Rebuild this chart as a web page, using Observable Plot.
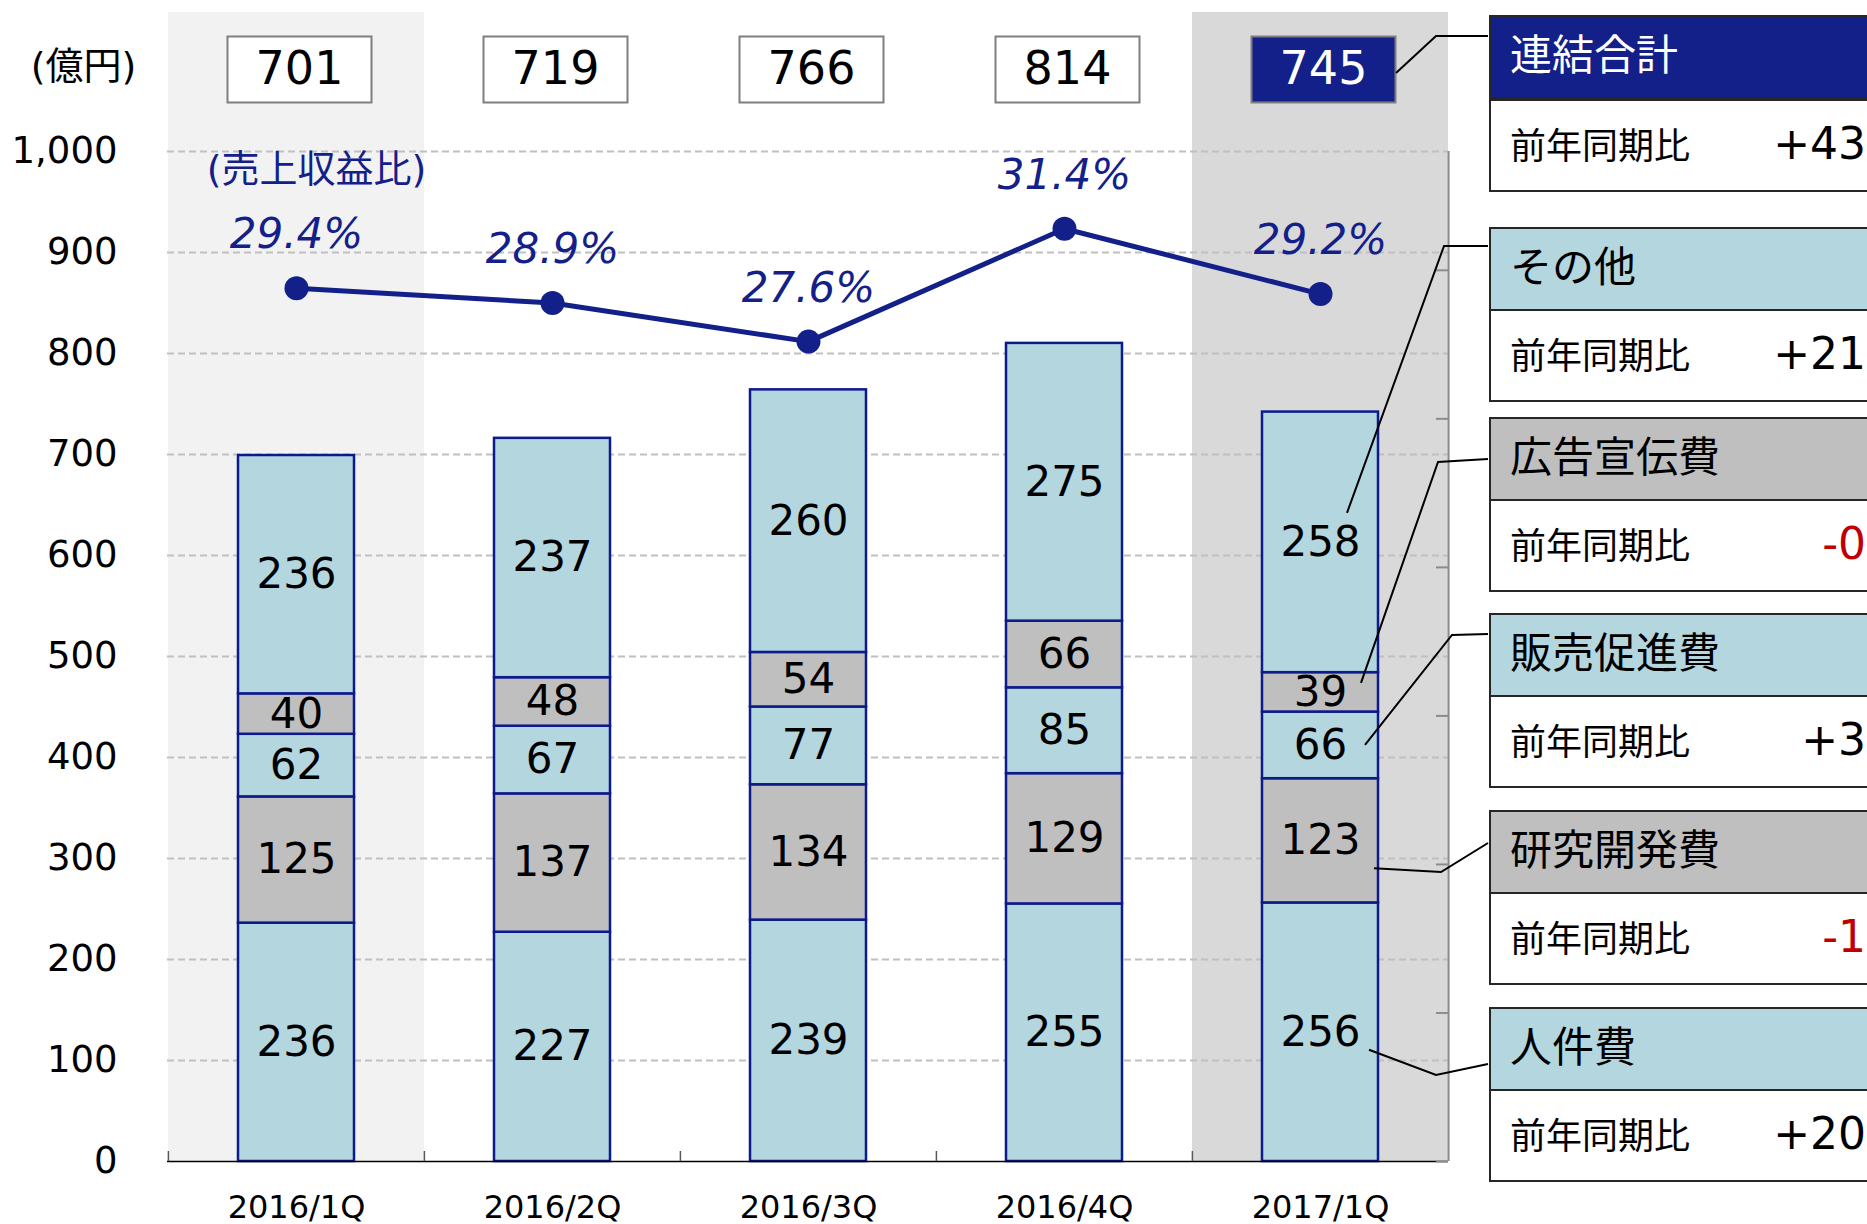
<!DOCTYPE html>
<html><head><meta charset="utf-8">
<script src="https://cdn.jsdelivr.net/npm/d3@7"></script>
<script src="https://cdn.jsdelivr.net/npm/@observablehq/plot@0.6"></script>
<style>
html,body{margin:0;padding:0;background:#fff;}
body{width:1867px;height:1224px;overflow:hidden;position:relative;font-family:"DejaVu Sans","Noto Sans CJK JP",sans-serif;}
#chart{position:absolute;left:0;top:0;}
#panel{position:absolute;left:1489px;top:0;width:378px;height:1224px;}
.box{position:absolute;left:0;width:378px;box-sizing:border-box;border:2.5px solid #262626;border-right:none;}
.hd{height:80px;border-bottom:2.5px solid #262626;font-family:"Noto Sans CJK JP",sans-serif;font-size:42px;line-height:70px;padding-left:19px;}
.bd{height:89px;background:#fff;position:relative;}
.lbl{position:absolute;left:19px;top:-2px;line-height:89px;font-family:"Noto Sans CJK JP",sans-serif;font-size:36px;color:#000;}
.val{position:absolute;right:1px;top:-2px;line-height:89px;font-family:"DejaVu Sans",sans-serif;font-size:44px;}
#leaders{position:absolute;left:0;top:0;pointer-events:none;}
</style></head><body>
<div id="chart"></div>
<div id="panel"></div>
<svg id="leaders" width="1867" height="1224"></svg>
<script>
// ---------- data ----------
const quarters = ["2016/1Q","2016/2Q","2016/3Q","2016/4Q","2017/1Q"];
const categories = ["人件費","研究開発費","販売促進費","広告宣伝費","その他"]; // bottom -> top
const personnel   = [236, 227, 239, 255, 256];
const rnd         = [125, 137, 134, 129, 123];
const promotion   = [62, 67, 77, 85, 66];
const advertising = [40, 48, 54, 66, 39];
const other       = [236, 237, 260, 275, 258];
const totals      = [701, 719, 766, 814, 745];
const ratioPct    = [29.4, 28.9, 27.6, 31.4, 29.2];
const yTicks      = [0,100,200,300,400,500,600,700,800,900,1000];
const ratioTicks  = [0,5,10,15,20,25,30];
const ratioMax    = 34;
const panelLabels = ["連結合計","その他","広告宣伝費","販売促進費","研究開発費","人件費"];
const panelYoY    = ["+43","+21","-0","+3","-1","+20"];

// ---------- styles ----------
const navy = "#13208a", blue = "#b4d6de", gray = "#bfbfbf";
const highlightQ = quarters[quarters.length - 1];

const series = [personnel, rnd, promotion, advertising, other];
const stack = quarters.flatMap((q, i) => categories.map((c, j) => ({q, cat: c, value: series[j][i]})));
const ratioData = quarters.map((q, i) => ({q, pct: ratioPct[i]}));
const totalData = quarters.map((q, i) => ({q, v: totals[i]}));

const W = 1500, H = 1224, ML = 167, MR = 52, MT = 151, MB = 63;
const step = (W - ML - MR) / quarters.length;
const frameH = H - MT - MB, frameW = W - ML - MR;
const k = 1000 / ratioMax; // secondary (ratio) axis mapped onto the primary axis
const boxSymbol = {draw(ctx) { ctx.moveTo(-72, -33); ctx.lineTo(72, -33); ctx.lineTo(72, 33); ctx.lineTo(-72, 33); ctx.closePath(); }};
const boxDx = 3, boxDy = -82;

const plot = Plot.plot({
  width: W, height: H,
  marginLeft: ML, marginRight: MR, marginTop: MT, marginBottom: MB,
  style: {fontFamily: "'DejaVu Sans','Noto Sans CJK JP',sans-serif", fontSize: "42px", background: "transparent", overflow: "visible", color: "#000"},
  x: {type: "band", domain: quarters, padding: 0, label: null},
  y: {domain: [0, 1000], label: null},
  color: {domain: categories, range: [blue, gray, blue, gray, blue]},
  marks: [
    Plot.barY([quarters[0]], {x: d => d, y1: 0, y2: 1000, fill: "#f2f2f2", insetTop: -139}),
    Plot.barY([highlightQ], {x: d => d, y1: 0, y2: 1000, fill: "#d9d9d9", insetTop: -139}),
    Plot.ruleY(yTicks.filter(d => d > 0), {y: d => d, stroke: "#c0c0c0", strokeWidth: 2, strokeDasharray: "7,4"}),
    Plot.barY(stack, {x: "q", y: "value", z: "cat", fill: "cat", stroke: "#0d1a8c", strokeWidth: 2.5, insetLeft: 70, insetRight: 70}),
    Plot.text(stack, Plot.stackY({x: "q", y: "value", z: "cat", text: d => String(d.value), fill: "#000", fontSize: 42})),
    Plot.ruleY([0], {y: d => d, stroke: "#000", strokeWidth: 1.5}),
    Plot.ruleX(quarters, {x: d => d, dx: -step / 2, insetTop: frameH - 10, stroke: "#595959", strokeWidth: 1.5}),
    Plot.ruleX([highlightQ], {x: d => d, dx: step / 2, stroke: "#8c8c8c", strokeWidth: 2}),
    Plot.ruleY(ratioTicks, {y: d => d * k, insetLeft: frameW - 12, stroke: "#8c8c8c", strokeWidth: 2}),
    Plot.line(ratioData, {x: "q", y: d => d.pct * k, stroke: navy, strokeWidth: 5}),
    Plot.dot(ratioData, {x: "q", y: d => d.pct * k, r: 12, fill: navy}),
    Plot.text(ratioData, {x: "q", y: d => d.pct * k, text: d => d.pct.toFixed(1) + "%", dy: -40, lineAnchor: "bottom", fill: navy, fontStyle: "italic", fontSize: 42}),
    Plot.dot(totalData, {filter: d => d.q !== highlightQ, x: "q", frameAnchor: "top", dx: boxDx, dy: boxDy, symbol: boxSymbol, r: 10, fill: "#fff", stroke: "#7f7f7f", strokeWidth: 2}),
    Plot.dot(totalData, {filter: d => d.q === highlightQ, x: "q", frameAnchor: "top", dx: boxDx, dy: boxDy, symbol: boxSymbol, r: 10, fill: navy, stroke: "#7f7f7f", strokeWidth: 2}),
    Plot.text(totalData, {x: "q", frameAnchor: "top", lineAnchor: "middle", dx: boxDx, dy: boxDy, text: d => String(d.v), fontSize: 46, fill: d => d.q === highlightQ ? "#ffffff" : "#000000"}),
    Plot.text(["(億円)"], {frameAnchor: "top-left", lineAnchor: "middle", dx: -84, dy: -85, textAnchor: "middle", fontSize: 38, text: d => d}),
    Plot.text([quarters[0]], {x: d => d, frameAnchor: "top", lineAnchor: "middle", dx: 20, dy: 18, text: () => "(売上収益比)", fill: navy, fontSize: 38}),
    Plot.axisY(yTicks, {tickSize: 0, tickPadding: 50, tickFormat: d3.format(","), fontSize: 37, label: null}),
    Plot.axisX({tickSize: 0, tickPadding: 34, fontSize: 32, label: null})
  ]
});
document.getElementById("chart").appendChild(plot);

// ---------- right-hand panel ----------
const panelTops = [15, 227, 417, 613, 810, 1007];
const headerFill = {"連結合計": navy, "その他": blue, "広告宣伝費": gray, "販売促進費": blue, "研究開発費": gray, "人件費": blue};
const panel = document.getElementById("panel");
panelLabels.forEach((lab, i) => {
  const box = document.createElement("div");
  box.className = "box";
  box.style.top = panelTops[i] + "px";
  const hd = document.createElement("div");
  hd.className = "hd";
  hd.style.background = headerFill[lab];
  hd.style.color = i === 0 ? "#fff" : "#000";
  if (i === 0) hd.style.borderBottomWidth = "4px";
  hd.textContent = lab;
  const bd = document.createElement("div");
  bd.className = "bd";
  const l = document.createElement("span"); l.className = "lbl"; l.textContent = "前年同期比";
  const v = document.createElement("span"); v.className = "val"; v.textContent = panelYoY[i];
  v.style.color = panelYoY[i].startsWith("-") ? "#c00000" : "#000";
  bd.appendChild(l); bd.appendChild(v);
  box.appendChild(hd); box.appendChild(bd);
  panel.appendChild(box);
});

// ---------- leader lines (annotation) ----------
const xs = plot.scale("x"), ys = plot.scale("y");
const cx = xs.apply(highlightQ) + xs.bandwidth / 2;
const last = quarters.length - 1;
let cum = 0;
const mids = {};
categories.forEach((c, j) => { const v = series[j][last]; mids[c] = cum + v / 2; cum += v; });
const panelLeft = 1488;
const leaderLayout = [
  {start: [cx + boxDx + 73, MT + boxDy + 4], corner: [1436, 36], endY: 36},
  {cat: "その他", sdx: 27, sdy: -29, corner: [1444, 246], endY: 246},
  {cat: "広告宣伝費", sdx: 41, sdy: -9, corner: [1438, 462], endY: 459},
  {cat: "販売促進費", sdx: 45, sdy: 0, corner: [1452, 635], endY: 634},
  {cat: "研究開発費", sdx: 54, sdy: 28, corner: [1441, 872], endY: 843},
  {cat: "人件費", sdx: 49, sdy: 18, corner: [1436, 1075], endY: 1064}
];
const lsvg = d3.select("#leaders");
leaderLayout.forEach(L => {
  const s = L.start || [cx + L.sdx, ys.apply(mids[L.cat]) + L.sdy];
  lsvg.append("polyline")
    .attr("points", [s, L.corner, [panelLeft, L.endY]].map(p => p.join(",")).join(" "))
    .attr("fill", "none").attr("stroke", "#000").attr("stroke-width", 2);
});
</script>
</body></html>
